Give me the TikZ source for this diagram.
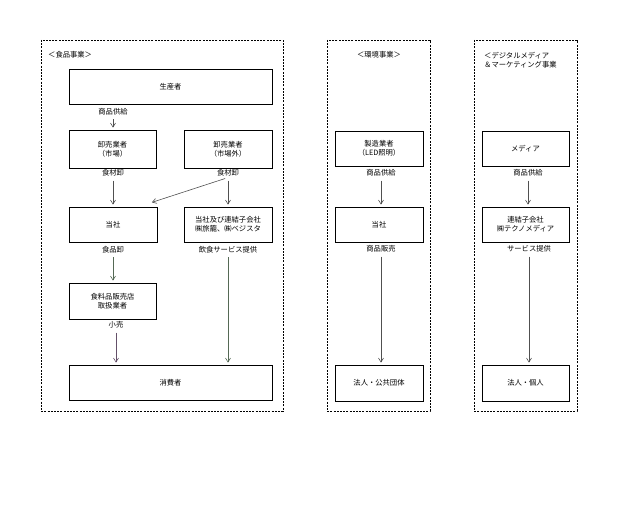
\documentclass[tikz,border=0pt]{standalone}
\usepackage{fontspec}
\newfontfamily\jp{Noto Sans CJK JP}
\usetikzlibrary{arrows.meta}
\definecolor{arrgray}{RGB}{80,80,80}
\definecolor{arrgreen}{RGB}{85,105,85}
\definecolor{arrviolet}{RGB}{100,80,105}
\begin{document}
\begin{tikzpicture}[x=1pt,y=-1pt,
  font=\jp\fontsize{7.3}{9.2}\selectfont,
  box/.style={draw=black,line width=0.8pt,inner sep=1pt,align=center,fill=white},
  lbl/.style={inner sep=1pt,align=center},
  frame/.style={draw=black,line width=0.7pt,dash pattern=on 2pt off 1.2pt},
  arr/.style={draw=#1,line width=0.6pt,-{Straight Barb[length=4pt,width=5pt]},shorten <=3pt,shorten >=2pt},
  arr/.default=arrgray]
\useasboundingbox (0,0) rectangle (632,532);
% frames
\draw[frame] (41,40) rectangle (283,411);
\draw[frame] (327,40) rectangle (430,411);
\draw[frame] (474,40) rectangle (577,411);
% headers
\node[lbl,anchor=west] (h1) at (47,55) {＜食品事業＞};
\node[lbl] (h2) at (379,55) {＜環境事業＞};
\node[lbl,anchor=west,align=left] (h3) at (483,60) {＜デジタルメディア\\＆マーケティング事業};
% food business
\node[box,minimum width=203pt,minimum height=35pt] (prod) at (170.5,86.5) {生産者};
\node[lbl] (l1) at (113,111.5) {商品供給};
\node[box,minimum width=87pt,minimum height=38pt] (wm) at (112.5,149) {卸売業者\\（市場）};
\node[box,minimum width=88pt,minimum height=38pt] (wo) at (228,149) {卸売業者\\（市場外）};
\node[lbl] (l2) at (113,173) {食材卸};
\node[lbl] (l3) at (228,173) {食材卸};
\node[box,minimum width=88pt,minimum height=35pt] (us) at (113,224.5) {当社};
\node[box,minimum width=88pt,minimum height=35pt] (grp) at (228,224.5) {当社及び連結子会社\\㈱旅籠、㈱ベジスタ};
\node[lbl] (l4) at (113,249.5) {食品卸};
\node[lbl] (l5) at (228,249.5) {飲食サービス提供};
\node[box,minimum width=87pt,minimum height=36pt] (shop) at (112.5,301) {食料品販売店\\取扱業者};
\node[lbl] (l6) at (116,325) {小売};
\node[box,minimum width=203pt,minimum height=35pt] (cons) at (170.5,382.5) {消費者};
\coordinate (dg) at (150,203);
\draw[arr] (l1.south) -- (l1.south |- wm.north);
\draw[arr] (l2.south) -- (l2.south |- us.north);
\draw[arr] (l3.south) -- (dg);
\draw[arr] (l3.south) -- (l3.south |- grp.north);
\draw[arr=arrgreen] (l4.south) -- (l4.south |- shop.north);
\draw[arr=arrviolet] (l6.south) -- (l6.south |- cons.north);
\draw[arr=arrgreen] (l5.south) -- (l5.south |- cons.north);
% environment business
\node[box,minimum width=88pt,minimum height=35pt] (mk) at (379,148.5) {製造業者\\（LED照明）};
\node[lbl] (m1) at (381,173) {商品供給};
\node[box,minimum width=88pt,minimum height=35pt] (us2) at (379,224.5) {当社};
\node[lbl] (m2) at (381,249) {商品販売};
\node[box,minimum width=88pt,minimum height=36pt] (corp) at (379,383) {法人・公共団体};
\draw[arr] (m1.south) -- (m1.south |- us2.north);
\draw[arr] (m2.south) -- (m2.south |- corp.north);
% digital media
\node[box,minimum width=87pt,minimum height=35pt] (med) at (525.5,148.5) {メディア};
\node[lbl] (d1) at (528,173) {商品供給};
\node[box,minimum width=87pt,minimum height=35pt] (tm) at (525.5,224.5) {連結子会社\\㈱テクノメディア};
\node[lbl] (d2) at (529,249) {サービス提供};
\node[box,minimum width=87pt,minimum height=36pt] (ind) at (525.5,383) {法人・個人};
\draw[arr] (d1.south) -- (d1.south |- tm.north);
\draw[arr] (d2.south) -- (d2.south |- ind.north);
\end{tikzpicture}
\end{document}
